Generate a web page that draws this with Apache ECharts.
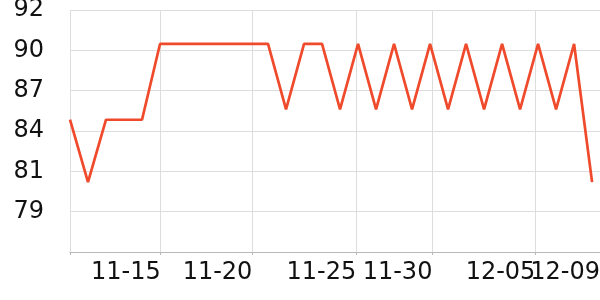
<!DOCTYPE html>
<html>
<head>
<meta charset="utf-8">
<script src="https://cdn.jsdelivr.net/npm/echarts@6/dist/echarts.min.js"></script>
<style>html,body{margin:0;padding:0;background:#fff}#c{width:600px;height:300px}</style>
</head>
<body>
<div id="c"></div>
<script>
// Dates (one point per day) and values
const dates = ['11-10','11-11','11-12','11-13','11-14','11-15','11-16','11-17','11-18','11-19',
  '11-20','11-21','11-22','11-23','11-24','11-25','11-26','11-27','11-28','11-29',
  '11-30','12-01','12-02','12-03','12-04','12-05','12-06','12-07','12-08','12-09'];
const values = [84.9, 80.7, 84.9, 84.9, 84.9, 90.0, 90.0, 90.0, 90.0, 90.0,
  90.0, 90.0, 85.6, 90.0, 90.0, 85.6, 90.0, 85.6, 90.0, 85.6,
  90.0, 85.6, 90.0, 85.6, 90.0, 85.6, 90.0, 85.6, 90.0, 80.7];
// X tick labels and where they sit on the day-index axis
const tickLabels = ['11-15', '11-20', '11-25', '11-30', '12-05'];
const tickAt = [5.04, 10.13, 15.9, 20.13, 25.85];
const endLabel = '12-09';
const xMax = 29.44;
// Y axis scale
const yMin = 76;
const yStep = 19 / 7;
const ySteps = 6;

const chart = echarts.init(document.getElementById('c'), null, {renderer: 'canvas'});
const font = 'DejaVu Sans';
const labelBase = {
  align: 'right',
  margin: 9,
  color: '#111',
  fontFamily: font,
  fontSize: 24,
  hideOverlap: false
};
chart.setOption({
  animation: false,
  grid: {left: 70, right: 0, top: 10, bottom: 48, containLabel: false, outerBoundsMode: 'none'},
  xAxis: [{
    type: 'value',
    min: 0,
    max: xMax,
    position: 'bottom',
    axisLine: {show: true, lineStyle: {color: '#b8b8b8', width: 1}},
    axisTick: {show: true, length: 3, lineStyle: {color: '#b8b8b8'}, customValues: [0].concat(tickAt)},
    splitLine: {show: true, lineStyle: {color: '#dddddd', width: 1}},
    axisLabel: Object.assign({}, labelBase, {
      customValues: tickAt,
      formatter: function (v) {
        let best = 0;
        for (let k = 0; k < tickAt.length; k++) {
          if (Math.abs(tickAt[k] - v) < Math.abs(tickAt[best] - v)) best = k;
        }
        return tickLabels[best];
      }
    })
  }, {
    type: 'value',
    min: 0,
    max: xMax,
    position: 'bottom',
    offset: 0,
    axisLine: {show: false},
    axisTick: {show: false},
    splitLine: {show: false},
    axisLabel: Object.assign({}, labelBase, {
      customValues: [xMax],
      showMaxLabel: true,
      formatter: function () { return endLabel; }
    })
  }],
  yAxis: {
    type: 'value',
    min: yMin,
    max: yMin + ySteps * yStep,
    interval: yStep,
    axisLine: {show: false},
    axisTick: {show: false},
    splitLine: {show: true, lineStyle: {color: '#dddddd', width: 1}},
    axisLabel: {
      showMinLabel: false,
      margin: 26,
      color: '#111',
      fontFamily: font,
      fontSize: 24,
      formatter: function (v) { return String(Math.round(v)); }
    }
  },
  series: [{
    type: 'line',
    xAxisIndex: 0,
    data: values.map(function (v, i) { return [i, v]; }),
    showSymbol: false,
    symbol: 'none',
    lineStyle: {color: '#ef4a2b', width: 2.7},
    itemStyle: {color: '#ef4a2b'}
  }]
});
</script>
</body>
</html>
